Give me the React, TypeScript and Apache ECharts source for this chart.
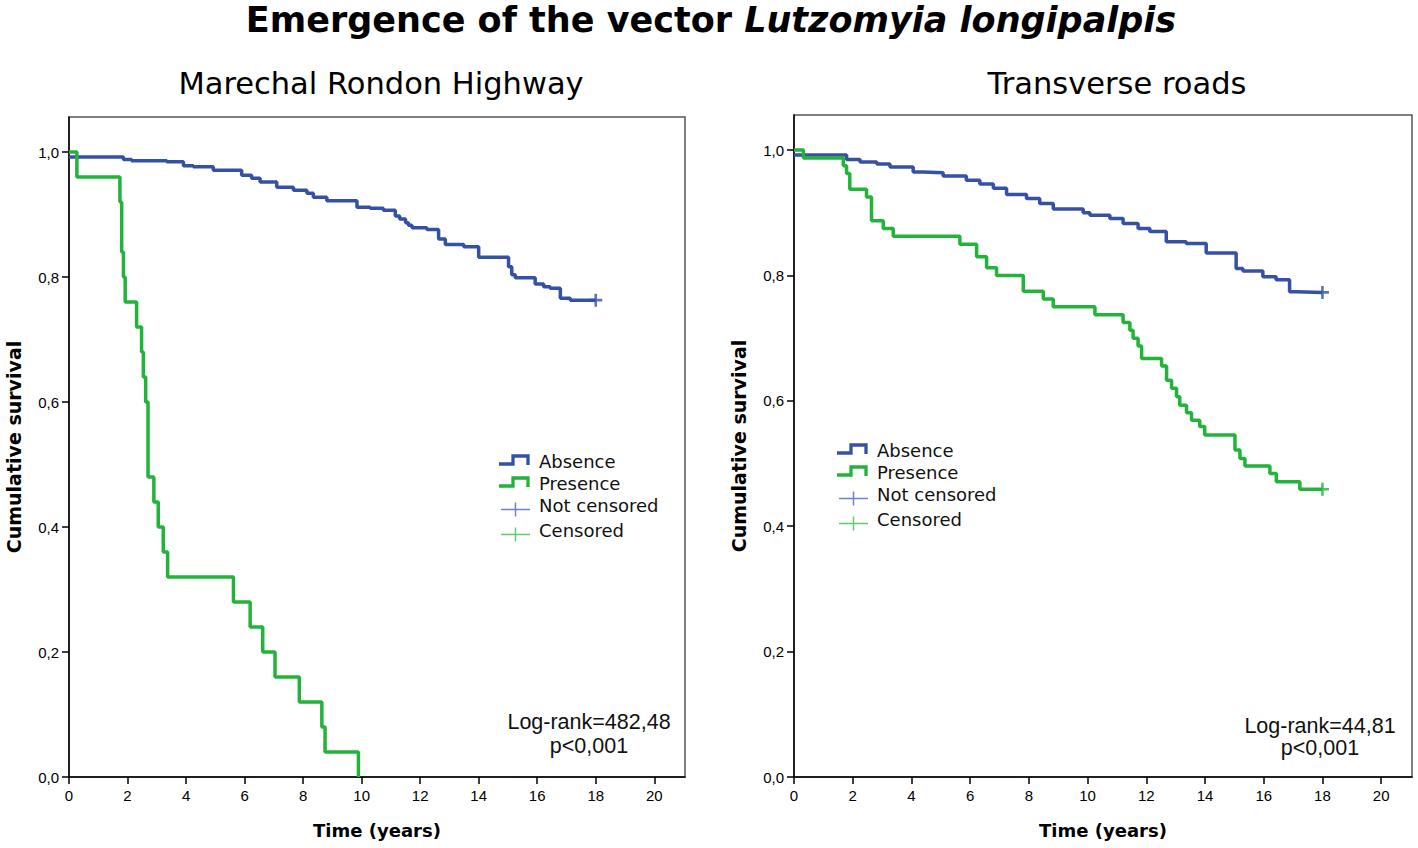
import React, { useEffect, useRef } from "react";
import * as echarts from "echarts";

// ---------- data ----------
const xTicks = [0, 2, 4, 6, 8, 10, 12, 14, 16, 18, 20];
const yTicks = [0, 0.2, 0.4, 0.6, 0.8, 1.0];
const legendLabels = ["Absence", "Presence", "Not censored", "Censored"];
const mainTitleRegular = "Emergence of the vector ";
const mainTitleItalic = "Lutzomyia longipalpis";
const panelTitles = ["Marechal Rondon Highway", "Transverse roads"];
const logRankTexts = ["Log-rank=482,48", "Log-rank=44,81"];
const pValueTexts = ["p<0,001", "p<0,001"];
const xAxisName = "Time (years)";
const yAxisName = "Cumulative survival";

// Kaplan-Meier steps: [time, survival after the step]
const absenceLeft = [
  [0, 0.992], [1.86, 0.988], [2.14, 0.986], [3.34, 0.9845], [3.91, 0.978],
  [4.25, 0.9765], [4.93, 0.971], [5.9, 0.963], [6.24, 0.958], [6.53, 0.952],
  [7.1, 0.9435], [7.67, 0.939], [8.13, 0.934], [8.35, 0.9275], [8.81, 0.922],
  [9.84, 0.9115], [10.29, 0.91], [10.74, 0.907], [11.15, 0.8976], [11.3, 0.893],
  [11.5, 0.887], [11.6, 0.883], [11.72, 0.879], [12.23, 0.876], [12.63, 0.861],
  [12.86, 0.852], [13.49, 0.8485], [14.0, 0.8315], [15.02, 0.8165], [15.13, 0.8035],
  [15.25, 0.799], [15.93, 0.789], [16.22, 0.7845], [16.44, 0.782], [16.79, 0.766],
  [17.13, 0.763], [18, 0.763],
];
const presenceLeft = [
  [0, 1], [0.27, 0.96], [1.74, 0.92], [1.8, 0.84], [1.86, 0.8], [1.92, 0.76],
  [2.31, 0.72], [2.48, 0.68], [2.54, 0.64], [2.62, 0.6], [2.7, 0.48], [2.9, 0.44],
  [3.05, 0.4], [3.22, 0.36], [3.37, 0.32], [5.62, 0.28], [6.19, 0.24], [6.62, 0.2],
  [7.04, 0.16], [7.87, 0.12], [8.64, 0.08], [8.75, 0.04], [9.89, 0],
];
const absenceRight = [
  [0, 0.992], [1.79, 0.985], [2.25, 0.981], [2.82, 0.978], [3.27, 0.973],
  [4.06, 0.965], [4.4, 0.964], [5.08, 0.9585], [5.87, 0.952], [6.33, 0.946],
  [6.79, 0.939], [7.24, 0.929], [7.92, 0.923], [8.37, 0.915], [8.83, 0.906],
  [9.85, 0.9], [10.08, 0.896], [10.76, 0.891], [11.21, 0.883], [11.72, 0.875],
  [12.12, 0.87], [12.68, 0.854], [13.36, 0.851], [14.04, 0.836], [15.06, 0.811],
  [15.29, 0.807], [15.97, 0.798], [16.42, 0.793], [16.88, 0.774], [17.1, 0.773],
  [18, 0.773],
];
const presenceRight = [
  [0, 1], [0.32, 0.9875], [1.68, 0.975], [1.79, 0.9625], [1.9, 0.9375],
  [2.47, 0.925], [2.64, 0.8875], [3.04, 0.875], [3.38, 0.8625], [5.65, 0.85],
  [6.22, 0.83], [6.56, 0.8125], [6.9, 0.8], [7.81, 0.775], [8.49, 0.7625],
  [8.83, 0.75], [10.25, 0.7375], [11.21, 0.725], [11.44, 0.7125], [11.55, 0.7],
  [11.72, 0.6875], [11.84, 0.6675], [12.52, 0.6555], [12.69, 0.633], [12.86, 0.62],
  [13.03, 0.6066], [13.14, 0.593], [13.37, 0.581], [13.54, 0.569], [13.82, 0.559],
  [13.99, 0.5455], [15.02, 0.5215], [15.19, 0.508], [15.36, 0.496], [16.21, 0.484],
  [16.43, 0.471], [17.23, 0.459], [18, 0.459],
];
const censorAbsenceLeft = [[18, 0.763]];
const censorPresenceLeft: number[][] = [];
const censorAbsenceRight = [[18, 0.773]];
const censorPresenceRight = [[18, 0.459]];

// ---------- styles ----------
const BLUE = "#3451A6";
const GREEN = "#22B33B";
const LIGHT_BLUE = "#6F82C9";
const LIGHT_GREEN = "#62C872";
const PLUS =
  "path://M5.6,0H8.4V5.6H14V8.4H8.4V14H5.6V8.4H0V5.6H5.6Z";

const fmtY = (v: number) => v.toFixed(1).replace(".", ",");

function legendElements(tx: number, ty: number) {
  const rows = [ty, ty + 22, ty + 44, ty + 69];
  const els: any[] = [];
  [BLUE, GREEN].forEach((c, i) => {
    const cy = rows[i];
    els.push({
      type: "polyline",
      shape: {
        points: [
          [tx - 40, cy + 3], [tx - 26, cy + 3], [tx - 26, cy - 5],
          [tx - 11, cy - 5], [tx - 11, cy + 4],
        ],
      },
      style: { stroke: c, lineWidth: 3.3, fill: null },
    });
  });
  [LIGHT_BLUE, LIGHT_GREEN].forEach((c, k) => {
    const cy = rows[k + 2];
    els.push({
      type: "line",
      shape: { x1: tx - 38, y1: cy + 4.5, x2: tx - 9, y2: cy + 4.5 },
      style: { stroke: c, lineWidth: 1.5 },
    });
    els.push({
      type: "line",
      shape: { x1: tx - 23.5, y1: cy - 2.5, x2: tx - 23.5, y2: cy + 11.5 },
      style: { stroke: c, lineWidth: 1.5 },
    });
  });
  legendLabels.forEach((t, i) => {
    els.push({
      type: "text",
      x: tx,
      y: rows[i],
      style: {
        text: t,
        fontFamily: "DejaVu Sans",
        fontSize: 18,
        fill: "#111",
        align: "left",
        verticalAlign: "middle",
      },
    });
  });
  return els;
}

function logRankElements(cx: number, y1: number, y2: number, i: number) {
  const base = {
    fontFamily: "Liberation Sans",
    fontSize: 21.5,
    fill: "#111",
    align: "center",
    verticalAlign: "middle",
  };
  return [
    { type: "text", x: cx, y: y1, style: { ...base, text: logRankTexts[i] } },
    { type: "text", x: cx, y: y2, style: { ...base, text: pValueTexts[i] } },
  ];
}

function makeXAxis(i: number) {
  return {
    type: "value",
    gridIndex: i,
    min: 0,
    max: 21.05,
    name: xAxisName,
    nameLocation: "middle",
    nameGap: 44,
    nameTextStyle: {
      fontFamily: "DejaVu Sans",
      fontWeight: "bold",
      fontSize: 18,
      color: "#000",
    },
    axisLine: { show: true, onZero: false, lineStyle: { color: "#000", width: 1.5 } },
    axisTick: {
      show: true,
      length: 7,
      customValues: xTicks,
      lineStyle: { color: "#000", width: 1.5 },
    },
    axisLabel: {
      customValues: xTicks,
      margin: 11,
      fontFamily: "Liberation Sans",
      fontSize: 15,
      color: "#000",
      formatter: (v: number) => String(v),
    },
    splitLine: { show: false },
  };
}

function makeYAxis(i: number) {
  return {
    type: "value",
    gridIndex: i,
    min: 0,
    max: 1.056,
    name: yAxisName,
    nameLocation: "middle",
    nameRotate: 90,
    nameGap: 46,
    nameTextStyle: {
      fontFamily: "DejaVu Sans",
      fontWeight: "bold",
      fontSize: 19,
      color: "#000",
    },
    axisLine: { show: true, onZero: false, lineStyle: { color: "#000", width: 1.5 } },
    axisTick: {
      show: true,
      length: 7,
      customValues: yTicks,
      lineStyle: { color: "#000", width: 1.5 },
    },
    axisLabel: {
      customValues: yTicks,
      margin: 10,
      fontFamily: "Liberation Sans",
      fontSize: 15,
      color: "#000",
      formatter: (v: number) => fmtY(v),
    },
    splitLine: { show: false },
  };
}

function lineSeries(name: string, data: number[][], color: string, idx: number) {
  return {
    type: "line",
    name,
    xAxisIndex: idx,
    yAxisIndex: idx,
    data,
    step: "end",
    showSymbol: false,
    symbol: "none",
    lineStyle: { color, width: 3.5 },
    itemStyle: { color },
    z: 3,
  };
}

function censorSeries(name: string, data: number[][], color: string, idx: number) {
  return {
    type: "scatter",
    name,
    xAxisIndex: idx,
    yAxisIndex: idx,
    data,
    symbol: PLUS,
    symbolSize: 13,
    itemStyle: { color },
    z: 4,
  };
}

export default function App() {
  const ref = useRef<HTMLDivElement>(null);
  useEffect(() => {
    if (!ref.current) return;
    const chart = echarts.init(ref.current, null, { renderer: "svg" });
    const option: any = {
      animation: false,
      backgroundColor: "#fff",
      title: [
        {
          text: `{b|${mainTitleRegular}}{i|${mainTitleItalic}}`,
          left: 711,
          top: 2,
          textAlign: "center",
          padding: 0,
          textStyle: {
            rich: {
              b: { fontFamily: "DejaVu Sans", fontWeight: "bold", fontSize: 35, color: "#000" },
              i: {
                fontFamily: "DejaVu Sans",
                fontWeight: "bold",
                fontStyle: "italic",
                fontSize: 35,
                color: "#000",
              },
            },
          },
        },
        {
          text: panelTitles[0],
          left: 381,
          top: 68,
          textAlign: "center",
          padding: 0,
          textStyle: { fontFamily: "DejaVu Sans", fontWeight: "normal", fontSize: 30.5, color: "#000" },
        },
        {
          text: panelTitles[1],
          left: 1117,
          top: 68,
          textAlign: "center",
          padding: 0,
          textStyle: { fontFamily: "DejaVu Sans", fontWeight: "normal", fontSize: 30.5, color: "#000" },
        },
      ],
      grid: [
        { left: 69, top: 117, width: 616, height: 660, show: true, borderColor: "#555", borderWidth: 1.5, backgroundColor: "transparent" },
        { left: 794, top: 115, width: 618, height: 662, show: true, borderColor: "#555", borderWidth: 1.5, backgroundColor: "transparent" },
      ],
      xAxis: [makeXAxis(0), makeXAxis(1)],
      yAxis: [makeYAxis(0), makeYAxis(1)],
      series: [
        lineSeries("Absence", absenceLeft, BLUE, 0),
        lineSeries("Presence", presenceLeft, GREEN, 0),
        censorSeries("Not censored", censorAbsenceLeft, BLUE, 0),
        censorSeries("Censored", censorPresenceLeft, GREEN, 0),
        lineSeries("Absence", absenceRight, BLUE, 1),
        lineSeries("Presence", presenceRight, GREEN, 1),
        censorSeries("Not censored", censorAbsenceRight, BLUE, 1),
        censorSeries("Censored", censorPresenceRight, GREEN, 1),
      ],
      graphic: [
        ...legendElements(539, 461),
        ...legendElements(877, 450),
        ...logRankElements(589, 722, 746, 0),
        ...logRankElements(1320, 726, 748, 1),
      ],
    };
    chart.setOption(option);
    return () => chart.dispose();
  }, []);
  return (
    <div
      ref={ref}
      style={{ position: "fixed", left: 0, top: 0, width: "1418px", height: "848px", background: "#fff" }}
    />
  );
}
